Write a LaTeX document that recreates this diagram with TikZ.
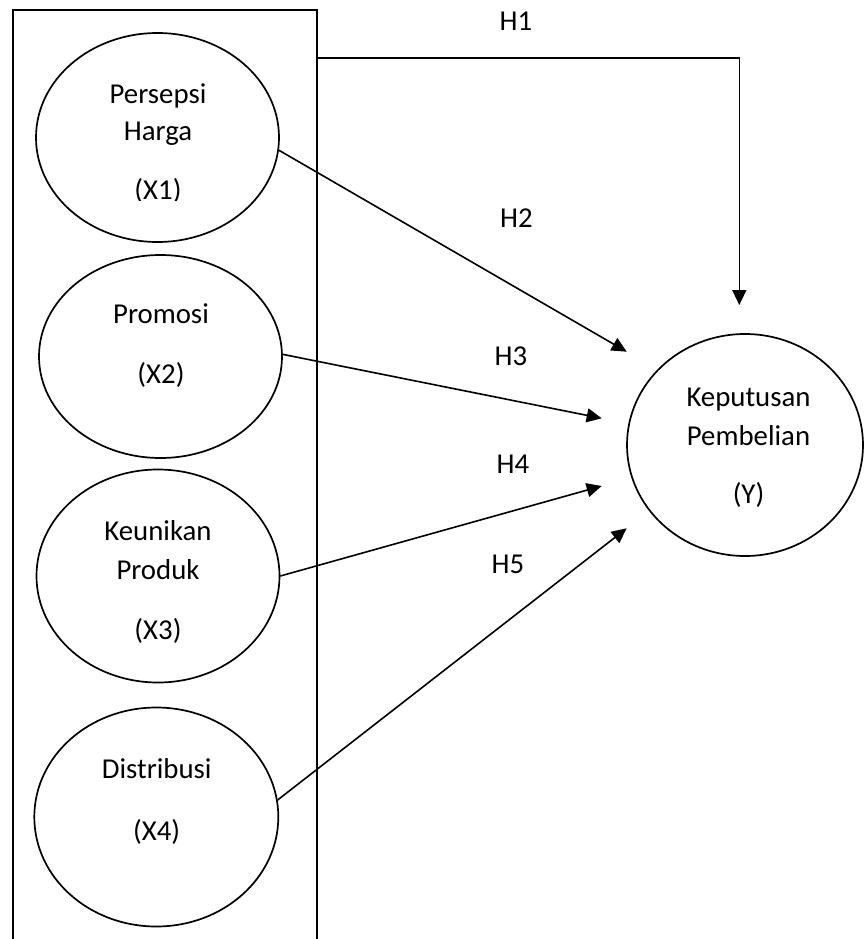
\documentclass[tikz,border=0pt]{standalone}
\usepackage{fontspec}
\setmainfont{Carlito}
\usetikzlibrary{arrows.meta,shapes.geometric}
\begin{document}
\begin{tikzpicture}[x=1pt,y=-1pt,
  var/.style={draw, ellipse, line width=1.7pt, inner sep=0pt},
  txt/.style={anchor=base, inner sep=0pt, font=\fontsize{28.8}{34}\selectfont},
  conn/.style={line width=1.6pt, -{Triangle[length=15pt,width=14pt]}},
  frame/.style={line width=1.1pt}]
\useasboundingbox (0,0) rectangle (864,939);
% frame around independent variables (open at bottom)
\draw[frame] (13,939) -- (13,10) -- (317,10) -- (317,939);
\coordinate (fr) at (317,58.3);
% ellipses
\node[var, minimum width=243pt, minimum height=209pt] (x1) at (157.5,137.5) {};
\node[var, minimum width=243pt, minimum height=203pt] (x2) at (160.5,356.5) {};
\node[var, minimum width=243pt, minimum height=213pt] (x3) at (158,576) {};
\node[var, minimum width=244pt, minimum height=219pt] (x4) at (156.3,817) {};
\node[var, minimum width=236pt, minimum height=222pt] (y) at (745,445) {};
% texts
\node[txt] (t1a) at (158,103) {Persepsi};
\node[txt] (t1b) at (158,140) {Harga};
\begin{scope}
\clip (0,0) rectangle (864,200);
\node[txt] (t1c) at (158,199) {(X1)};
\end{scope}
\node[txt] (t2a) at (161,323) {Promosi};
\node[txt] (t2b) at (161,383) {(X2)};
\node[txt] (t3a) at (158,540) {Keunikan};
\node[txt] (t3b) at (158,579) {Produk};
\node[txt] (t3c) at (158,639) {(X3)};
\node[txt] (t4a) at (156.7,778) {Distribusi};
\node[txt] (t4b) at (156.7,840) {(X4)};
\node[txt] (tya) at (748.5,406.7) {Keputusan};
\node[txt] (tyb) at (748.5,445) {Pembelian};
\node[txt] (tyc) at (748.5,503) {(Y)};
% hypothesis labels
\node[txt] (h1) at (516,30.7) {H1};
\node[txt] (h2) at (516.5,227) {H2};
\node[txt] (h3) at (511,365) {H3};
\node[txt] (h4) at (513,473) {H4};
\node[txt] (h5) at (508,573) {H5};
% arrow end points
\coordinate (e1) at (739.3,305);
\coordinate (e2) at (626.7,351.7);
\coordinate (e3) at (601.7,418.3);
\coordinate (e4) at (601.7,486);
\coordinate (e5) at (626.7,528.3);
% connectors
\draw[conn] (fr) -- (739.3,58.3) -- (e1);
\draw[conn] (x1.-6.6) -- (e2);
\draw[conn] (x2.1.5) -- (e3);
\draw[conn] (x3.0) -- (e4);
\draw[conn] (x4.8) -- (e5);
\end{tikzpicture}
\end{document}
